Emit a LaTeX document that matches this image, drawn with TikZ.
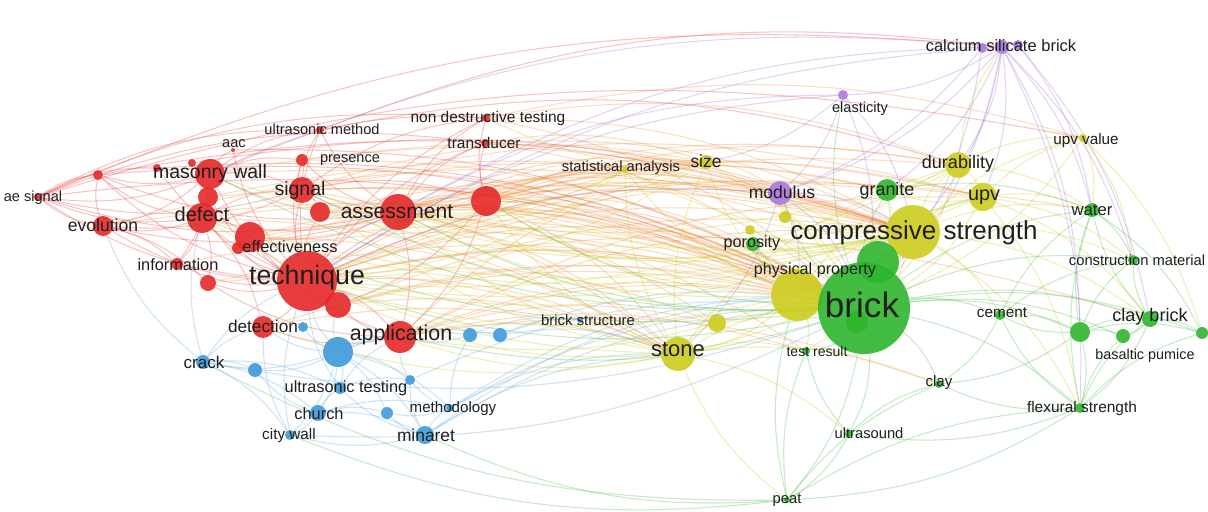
\documentclass[tikz,border=0pt]{standalone}
\usepackage{fontspec}
\setmainfont{Liberation Sans}
\usetikzlibrary{positioning}
\pgfdeclarelayer{back}
\pgfdeclarelayer{bg}
\pgfsetlayers{back,bg,main}

\definecolor{vred}{RGB}{229,40,40}
\definecolor{vblue}{RGB}{62,153,218}
\definecolor{vyellow}{RGB}{206,204,30}
\definecolor{vgreen}{RGB}{46,182,46}
\definecolor{vpurple}{RGB}{170,120,222}
\definecolor{vorange}{RGB}{240,150,60}

\tikzset{
  kw/.style={circle, inner sep=0pt, minimum size=#1*0.04cm, fill opacity=0.9},
  kwr/.style={kw=#1, fill=vred},
  kwb/.style={kw=#1, fill=vblue},
  kwy/.style={kw=#1, fill=vyellow},
  kwg/.style={kw=#1, fill=vgreen},
  kwp/.style={kw=#1, fill=vpurple},
  lab/.style={inner sep=0pt, text=black!88, font=\fontsize{#1}{#1}\selectfont},
  link/.style={line width=0.6pt, draw opacity=0.32, bend left=14},
  redlink/.style={link, draw=vred!85!white},
  orlink/.style={link, draw=vorange},
  bluelink/.style={link, draw=vblue!80!white},
  yellink/.style={link, draw=vyellow},
  grnlink/.style={link, draw=vgreen!85!white},
  purlink/.style={link, draw=vpurple}
}

\begin{document}
\begin{tikzpicture}[x=0.02cm,y=-0.02cm]
\begin{pgfonlayer}{back}
\fill[white] (0,0) rectangle (1208,511);
\end{pgfonlayer}
\useasboundingbox (0,0) rectangle (1208,511);

% red cluster
\node[kwr=30] (tech) at (307,281) {};
\node[kwr=18] (assess) at (398,212) {};
\node[kwr=15] (redA) at (486,201) {};
\node[kwr=15] (defect) at (202,218) {};
\node[kwr=15] (mwall) at (210,174) {};
\node[kwr=13] (signal) at (302,190) {};
\node[kwr=10] (redB) at (320,212) {};
\node[kwr=10] (evol) at (103,226) {};
\node[kwr=4] (aesig) at (38,197) {};
\node[kwr=5] (redC) at (98,175) {};
\node[kwr=4] (redD) at (157,168) {};
\node[kwr=4] (redE) at (192,163) {};
\node[kwr=2] (aac) at (233,150) {};
\node[kwr=4] (umethod) at (320,130) {};
\node[kwr=6] (presence) at (302,160) {};
\node[kwr=10] (redF) at (208,197) {};
\node[kwr=15] (redG) at (250,237) {};
\node[kwr=6] (effect) at (238,248) {};
\node[kwr=6] (inform) at (177,264) {};
\node[kwr=8] (redH) at (208,283) {};
\node[kwr=13] (redI) at (338,305) {};
\node[kwr=11] (detect) at (263,327) {};
\node[kwr=16] (appl) at (400,337) {};
\node[kwr=4] (ndt) at (486,118) {};
\node[kwr=4] (transd) at (485,143) {};

% blue cluster
\node[kwb=5] (blueA) at (303,327) {};
\node[kwb=15] (blueB) at (338,352) {};
\node[kwb=7] (crack) at (203,362) {};
\node[kwb=7] (blueC) at (255,370) {};
\node[kwb=6] (utest) at (340,388) {};
\node[kwb=5] (blueD) at (410,380) {};
\node[kwb=8] (church) at (318,413) {};
\node[kwb=6] (blueE) at (387,413) {};
\node[kwb=4] (method) at (450,408) {};
\node[kwb=5] (cwall) at (290,435) {};
\node[kwb=9] (minaret) at (425,435) {};
\node[kwb=7] (blueF) at (470,335) {};
\node[kwb=7] (blueG) at (500,335) {};
\node[kwb=3] (bstruct) at (580,320) {};

% yellow cluster
\node[kwy=27] (cstr) at (913,232) {};
\node[kwy=26] (pprop) at (797,295) {};
\node[kwy=17] (stone) at (678,354) {};
\node[kwy=9] (yelA) at (717,323) {};
\node[kwy=7] (size) at (706,162) {};
\node[kwy=3] (stat) at (625,170) {};
\node[kwy=13] (dur) at (958,165) {};
\node[kwy=14] (upv) at (983,197) {};
\node[kwy=4] (upvval) at (1083,138) {};
\node[kwy=6] (yelB) at (785,217) {};
\node[kwy=5] (yelC) at (750,230) {};

% green cluster
\node[kwg=46] (brick) at (864,308) {};
\node[kwg=11] (brickin) at (857,322) {};
\node[kwg=21] (grnA) at (878,262) {};
\node[kwg=11] (granite) at (887,190) {};
\node[kwg=7] (poros) at (753,244) {};
\node[kwg=7] (water) at (1092,210) {};
\node[kwg=5] (cmat) at (1133,260) {};
\node[kwg=5] (cement) at (1000,315) {};
\node[kwg=4] (clay) at (939,384) {};
\node[kwg=5] (flex) at (1080,408) {};
\node[kwg=4] (usound) at (849,434) {};
\node[kwg=3] (peat) at (787,500) {};
\node[kwg=4] (tresult) at (806,351) {};
\node[kwg=10] (grnB) at (1080,332) {};
\node[kwg=7] (grnC) at (1123,336) {};
\node[kwg=8] (cbrick) at (1150,319) {};
\node[kwg=6] (grnD) at (1202,333) {};

% purple cluster
\node[kwp=12] (modulus) at (780,193) {};
\node[kwp=5] (elast) at (843,95) {};
\node[kwp=5] (csbA) at (982,48) {};
\node[kwp=7] (csb) at (1002,47) {};
\node[kwp=5] (csbB) at (1018,45) {};

\begin{pgfonlayer}{bg}
% links inside the red cluster
\draw[redlink] (tech) edge (assess) edge (mwall) edge (defect) edge (signal) edge (evol) edge (aesig) edge (inform) edge (effect) edge (redG) edge (redH) edge (redI) edge (detect) edge (appl) edge (presence) edge (umethod) edge (aac) edge (ndt) edge (transd) edge (redA) edge (redB) edge (redF) edge (redC) edge (redD);
\draw[redlink] (assess) edge (mwall) edge (defect) edge (signal) edge (evol) edge (aesig) edge (redA) edge (ndt) edge (transd) edge (umethod) edge (appl) edge (redG) edge (presence) edge (redC);
\draw[redlink] (mwall) edge (defect) edge (signal) edge (evol) edge (aesig) edge (redC) edge (redD) edge (redE) edge (aac) edge (presence) edge (redF) edge (inform) edge (umethod) edge (ndt);
\draw[redlink] (defect) edge (evol) edge (aesig) edge (signal) edge (redG) edge (inform) edge (detect) edge (redC) edge (redH);
\draw[redlink] (signal) edge (evol) edge (aesig) edge (umethod) edge (presence) edge (redB) edge (redA) edge (ndt);
\draw[redlink] (redA) edge (ndt) edge (transd) edge (appl) edge (redI) edge (signal);
\draw[redlink] (evol) edge (aesig) edge (inform) edge (redC) edge (redH);
\draw[redlink] (aesig) edge (redC) edge (redD) edge (umethod) edge (ndt) edge (transd);
\draw[redlink] (appl) edge (redI) edge (detect) edge (redG) edge (redH);
% red to the right
\draw[orlink] (tech) edge (cstr) edge (brick) edge (stone) edge (pprop) edge (size) edge (stat) edge (dur) edge (upv) edge (granite) edge (modulus) edge (poros) edge (yelA) edge (water) edge (cbrick);
\draw[orlink] (assess) edge (brick) edge (cstr) edge (stone) edge (pprop) edge (modulus) edge (size) edge (upv) edge (dur) edge (granite) edge (tresult) edge (yelA);
\draw[orlink] (redA) edge (brick) edge (cstr) edge (stone) edge (pprop) edge (upv) edge (dur) edge (stat) edge (granite) edge (size) edge (modulus) edge (yelB) edge (poros);
\draw[orlink] (appl) edge (brick) edge (stone) edge (pprop) edge (cstr) edge (tresult) edge (yelA) edge (upv) edge (size) edge (clay);
\draw[orlink] (signal) edge (cstr) edge (brick) edge (stone) edge (pprop) edge (upv) edge (size);
\draw[orlink] (defect) edge (brick) edge (stone);
\draw[orlink] (mwall) edge (brick) edge (cstr);
\draw[orlink] (redB) edge (brick) edge (cstr) edge (pprop);
\draw[orlink] (redG) edge (brick) edge (cstr) edge (stone);
\draw[orlink] (redI) edge (brick) edge (stone) edge (pprop) edge (cstr);
\draw[orlink] (redF) edge (brick) edge (cstr);
\draw[orlink] (detect) edge (brick) edge (stone);
\draw[orlink] (effect) edge (brick) edge (cstr);
\draw[orlink] (redH) edge (stone) edge (brick);
\draw[orlink] (presence) edge (brick) edge (cstr);
\draw[orlink] (inform) edge (brick);
\draw[redlink] (redC) edge (cstr) edge (brick);
\draw[redlink] (redD) edge (brick);
\draw[redlink] (redE) edge (cstr);
\draw[redlink] (aac) edge (brick);
\draw[orlink] (ndt) edge (brick) edge (cstr) edge (dur) edge (upvval);
\draw[orlink] (transd) edge (brick) edge (cstr) edge (size);
\draw[redlink] (aesig) edge (csb) edge (brick) edge (upvval);
\draw[redlink] (umethod) edge (csb) edge (dur);
\draw[orlink] (evol) edge (brick) edge (cstr);
% blue cluster
\draw[bluelink] (blueB) edge (tech) edge (appl) edge (detect) edge (crack) edge (blueC) edge (utest) edge (church) edge (cwall) edge (minaret) edge (method) edge (blueD) edge (blueE) edge (blueA) edge (blueF) edge (blueG) edge (redI);
\draw[bluelink] (crack) edge (blueC) edge (church) edge (cwall) edge (tech) edge (defect) edge (detect) edge (utest) edge (evol);
\draw[bluelink] (church) edge (cwall) edge (utest) edge (blueE) edge (minaret) edge (blueC) edge (method);
\draw[bluelink] (minaret) edge (blueE) edge (method) edge (blueD) edge (cwall) edge (utest) edge (stone) edge (brick) edge (pprop);
\draw[bluelink] (method) edge (blueD) edge (blueE) edge (blueF) edge (brick) edge (pprop) edge (stone);
\draw[bluelink] (blueF) edge (blueG) edge (appl) edge (bstruct);
\draw[bluelink] (blueG) edge (bstruct) edge (stone) edge (brick);
\draw[bluelink] (cwall) edge (tech) edge (detect);
\draw[bluelink] (utest) edge (tech) edge (appl) edge (blueD);
\draw[bluelink] (blueD) edge (appl) edge (brick);
\draw[bluelink] (brick) edge (crack) edge (cwall);
\draw[grnlink] (peat) edge (cwall) edge (minaret);
% yellow cluster
\draw[yellink] (cstr) edge (pprop) edge (stone) edge (size) edge (dur) edge (upv) edge (upvval) edge (granite) edge (brick) edge (modulus) edge (poros) edge (yelA) edge (yelB) edge (yelC) edge (stat) edge (water) edge (cbrick) edge (flex) edge (cement) edge (tresult) edge (cmat);
\draw[yellink] (pprop) edge (stone) edge (yelA) edge (size) edge (brick) edge (stat) edge (poros) edge (tresult) edge (dur) edge (upv);
\draw[yellink] (stone) edge (yelA) edge (brick) edge (size) edge (stat) edge (tresult) edge (clay) edge (usound) edge (granite);
\draw[yellink] (peat) edge (stone);
\draw[yellink] (dur) edge (upv) edge (upvval) edge (granite) edge (brick) edge (water) edge (csb);
\draw[yellink] (upv) edge (upvval) edge (brick) edge (water) edge (cmat) edge (granite) edge (cbrick) edge (flex);
\draw[yellink] (upvval) edge (brick) edge (water) edge (cmat) edge (grnD);
\draw[yellink] (size) edge (brick) edge (stat) edge (modulus);
\draw[yellink] (yelB) edge (brick) edge (modulus);
\draw[yellink] (yelC) edge (brick) edge (poros);
% yellow back to the red cluster
\draw[yellink] (stone) edge (tech) edge (assess) edge (appl) edge (redA) edge (defect) edge (signal) edge (detect);
\draw[yellink] (pprop) edge (tech) edge (assess) edge (appl) edge (redA);
\draw[yellink] (cstr) edge (tech) edge (assess) edge (signal) edge (defect) edge (mwall) edge (redA) edge (redG);
\draw[yellink] (size) edge (tech) edge (assess) edge (ndt);
\draw[yellink] (stat) edge (tech) edge (assess) edge (redA);
\draw[yellink] (upv) edge (tech) edge (assess);
\draw[yellink] (dur) edge (assess) edge (tech);
% green cluster
\draw[grnlink] (brick) edge (granite) edge (grnA) edge (poros) edge (water) edge (cmat) edge (cement) edge (clay) edge (flex) edge (usound) edge (peat) edge (tresult) edge (grnB) edge (grnC) edge (cbrick) edge (grnD) edge (brickin) edge (modulus) edge (elast);
\draw[grnlink] (brick) edge (tech) edge (assess) edge (appl) edge (redA) edge (defect) edge (signal) edge (mwall);
\draw[grnlink] (grnB) edge (grnC) edge (cbrick) edge (grnD) edge (flex) edge (cement) edge (water) edge (cmat) edge (clay);
\draw[grnlink] (cbrick) edge (grnD) edge (flex) edge (cmat) edge (water) edge (grnC);
\draw[grnlink] (flex) edge (cement) edge (clay) edge (usound) edge (grnC) edge (cbrick) edge (grnD) edge (peat) edge (water);
\draw[grnlink] (cement) edge (clay) edge (water) edge (cmat) edge (grnB);
\draw[grnlink] (usound) edge (peat) edge (tresult) edge (clay);
\draw[grnlink] (peat) edge (tresult) edge (clay) edge (flex) edge (pprop) edge (crack);
\draw[grnlink] (water) edge (cmat) edge (grnD);
\draw[grnlink] (granite) edge (grnA) edge (water);
% purple cluster
\draw[purlink] (csb) edge (csbA) edge (csbB) edge (elast) edge (modulus) edge (brick) edge (cstr) edge (dur) edge (upv) edge (water) edge (cmat) edge (grnB) edge (flex) edge (granite);
\draw[purlink] (tech) edge (csb) edge (elast);
\draw[purlink] (assess) edge (csb) edge (elast);
\draw[purlink] (mwall) edge (csb);
\draw[purlink] (elast) edge (modulus) edge (brick) edge (cstr) edge (size);
\draw[purlink] (modulus) edge (brick) edge (cstr) edge (pprop) edge (stone);
\draw[purlink] (tech) edge (modulus);
\draw[purlink] (csbA) edge (brick) edge (modulus);
\draw[purlink] (csbB) edge (cbrick) edge (water);
\end{pgfonlayer}

% labels
\node[lab=15.2] (tech-l) at (307,278) {technique};
\node[lab=12] (assess-l) at (397,212) {assessment};
\node[lab=11.1] (mwall-l) at (210,173) {masonry wall};
\node[lab=11.1] (signal-l) at (300,190) {signal};
\node[lab=11.4] (defect-l) at (202,214) {defect};
\node[lab=10] (evol-l) at (103,225) {evolution};
\node[lab=8.3] (aesig-l) at (33,198) {ae signal};
\node[lab=8.3] (aac-l) at (234,144) {aac};
\node[lab=8.3] (umethod-l) at (322,129) {ultrasonic method};
\node[lab=8.3] (presence-l) at (350,160) {presence};
\node[lab=9.3] (effect-l) at (290,247) {effectiveness};
\node[lab=9.3] (inform-l) at (178,265) {information};
\node[lab=9.8] (detect-l) at (263,326) {detection};
\node[lab=12.2] (appl-l) at (401,335) {application};
\node[lab=8.8] (ndt-l) at (488,118) {non destructive testing};
\node[lab=8.8] (transd-l) at (484,143) {transducer};
\node[lab=9.7] (crack-l) at (204,362) {crack};
\node[lab=9.3] (utest-l) at (346,388) {ultrasonic testing};
\node[lab=9.3] (church-l) at (319,414) {church};
\node[lab=8.6] (method-l) at (453,409) {methodology};
\node[lab=8.7] (cwall-l) at (289,436) {city wall};
\node[lab=9.9] (minaret-l) at (426,435) {minaret};
\node[lab=8.5] (bstruct-l) at (588,320) {brick structure};
\node[lab=8.4] (stat-l) at (621,168) {statistical analysis};
\node[lab=9.9] (size-l) at (706,161) {size};
\node[lab=12.5] (stone-l) at (678,350) {stone};
\node[lab=9.2] (pprop-l) at (815,270) {physical property};
\node[lab=9.2] (poros-l) at (752,243) {porosity};
\node[lab=14.8] (cstr-l) at (914,233) {compressive strength};
\node[lab=10] (modulus-l) at (782,192) {modulus};
\node[lab=8.3] (elast-l) at (860,109) {elasticity};
\node[lab=9.4] (csb-l) at (1001,46) {calcium silicate brick};
\node[lab=10.2] (granite-l) at (887,191) {granite};
\node[lab=10.3] (dur-l) at (958,164) {durability};
\node[lab=11.3] (upv-l) at (984,197) {upv};
\node[lab=8.7] (upvval-l) at (1086,141) {upv value};
\node[lab=9.5] (water-l) at (1092,210) {water};
\node[lab=8.4] (cmat-l) at (1137,260) {construction material};
\node[lab=20] (brick-l) at (862,305) {brick};
\node[lab=8.7] (cement-l) at (1002,313) {cement};
\node[lab=10.3] (cbrick-l) at (1150,317) {clay brick};
\node[lab=8.2] (bpum-l) at (1145,356) {basaltic pumice};
\node[lab=8] (tresult-l) at (817,351) {test result};
\node[lab=8.6] (clay-l) at (939,383) {clay};
\node[lab=8.8] (flex-l) at (1082,408) {flexural strength};
\node[lab=8.4] (usound-l) at (869,433) {ultrasound};
\node[lab=8.4] (peat-l) at (787,500) {peat};
\end{tikzpicture}
\end{document}
